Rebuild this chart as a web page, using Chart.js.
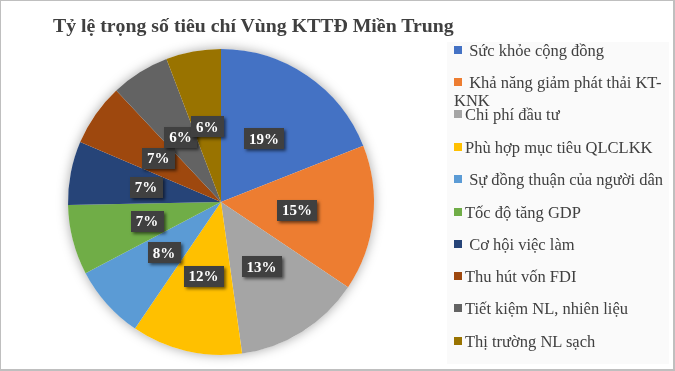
<!DOCTYPE html>
<html>
<head>
<meta charset="utf-8">
<script src="https://cdn.jsdelivr.net/npm/chart.js@4.4.0/dist/chart.umd.min.js"></script>
<style>
body{margin:0;background:#fff;}
#wrap{position:relative;width:675px;height:371px;box-sizing:border-box;border:1px solid #bfbfbf;border-right-width:2px;border-bottom-width:2px;font-family:"Liberation Serif","Times New Roman",serif;}
#mycanvas{position:absolute;left:-1px;top:-1px;}
#title{position:absolute;left:52px;top:13px;font-size:19.8px;font-weight:bold;color:#404040;white-space:nowrap;}
#legend{position:absolute;left:446px;top:41px;width:222px;height:322px;background:#fafafa;}
.item{position:absolute;left:7px;font-size:16.5px;color:#404040;line-height:18px;width:214px;}
.item span.box{display:inline-block;width:8px;height:8px;margin-right:3px;vertical-align:2px;}
</style>
</head>
<body>
<div id="wrap">
<canvas id="mycanvas" width="675" height="371"></canvas>
<div id="title">Tỷ lệ trọng số tiêu chí Vùng KTTĐ Miền Trung</div>
<div id="legend"></div>
</div>
<script>
var labels=['Sức khỏe cộng đồng','Khả năng giảm phát thải KT-KNK','Chi phí đầu tư','Phù hợp mục tiêu QLCLKK','Sự đồng thuận của người dân','Tốc độ tăng GDP','Cơ hội việc làm','Thu hút vốn FDI','Tiết kiệm NL, nhiên liệu','Thị trường NL sạch'];
var values=[19.0,15.4,13.4,11.7,7.8,7.4,6.7,6.6,6.2,5.8];
var colors=['#4472C4','#ED7D31','#A5A5A5','#FFC000','#5B9BD5','#70AD47','#264478','#9E480E','#636363','#997300'];
var leadSpace=[true,true,false,false,true,false,true,false,false,false];

// legend
var lg=document.getElementById('legend');
var tops=[0,32,64,97,129,162,194,226,258,291];
for(var i=0;i<labels.length;i++){
	var d=document.createElement('div');
	d.className='item';
	d.style.top=tops[i]+'px';
	d.innerHTML='<span class="box" style="background:'+colors[i]+'"></span>'+(leadSpace[i]?'&nbsp;':'')+labels[i];
	lg.appendChild(d);
}

var shadowPlugin={
	id:'pieShadow',
	beforeDatasetsDraw:function(chart){
		var arc=chart.getDatasetMeta(0).data[0];
		var ctx=chart.ctx;
		ctx.save();
		ctx.shadowColor='rgba(0,0,0,0.35)';
		ctx.shadowBlur=12;
		ctx.fillStyle='#fff';
		ctx.beginPath();
		ctx.arc(arc.x,arc.y,arc.outerRadius,0,Math.PI*2);
		ctx.fill();
		ctx.restore();
	}
};

var labelPlugin={
	id:'pctLabels',
	afterDatasetsDraw:function(chart){
		var ctx=chart.ctx;
		var meta=chart.getDatasetMeta(0);
		var total=values.reduce(function(a,b){return a+b;},0);
		ctx.save();
		ctx.font='bold 15px "Liberation Serif", serif';
		ctx.textAlign='center';
		ctx.textBaseline='middle';
		meta.data.forEach(function(el,i){
			var p=el.tooltipPosition();
			var txt=Math.round(values[i]/total*100)+'%';
			var w=ctx.measureText(txt).width+10, h=21;
			ctx.save();
			ctx.shadowColor='rgba(0,0,0,0.55)';
			ctx.shadowBlur=3;
			ctx.shadowOffsetX=2;
			ctx.shadowOffsetY=2;
			ctx.fillStyle='#404040';
			ctx.fillRect(Math.round(p.x-w/2),Math.round(p.y-h/2),Math.round(w),h);
			ctx.restore();
			ctx.fillStyle='#fff';
			ctx.fillText(txt,p.x,p.y+1);
		});
		ctx.restore();
	}
};

var chartdata={
	labels:labels,
	datasets:[{
		data:values,
		backgroundColor:colors,
		borderWidth:0
	}]
};
var ctx=document.getElementById('mycanvas');
var pie=new Chart(ctx,{
	type:'pie',
	data:chartdata,
	options:{
		responsive:false,
		animation:false,
		events:[],
		layout:{padding:{left:68,right:301,top:49,bottom:16}},
		plugins:{legend:{display:false},tooltip:{enabled:false},title:{display:false}}
	},
	plugins:[shadowPlugin,labelPlugin]
});
</script>
</body>
</html>
